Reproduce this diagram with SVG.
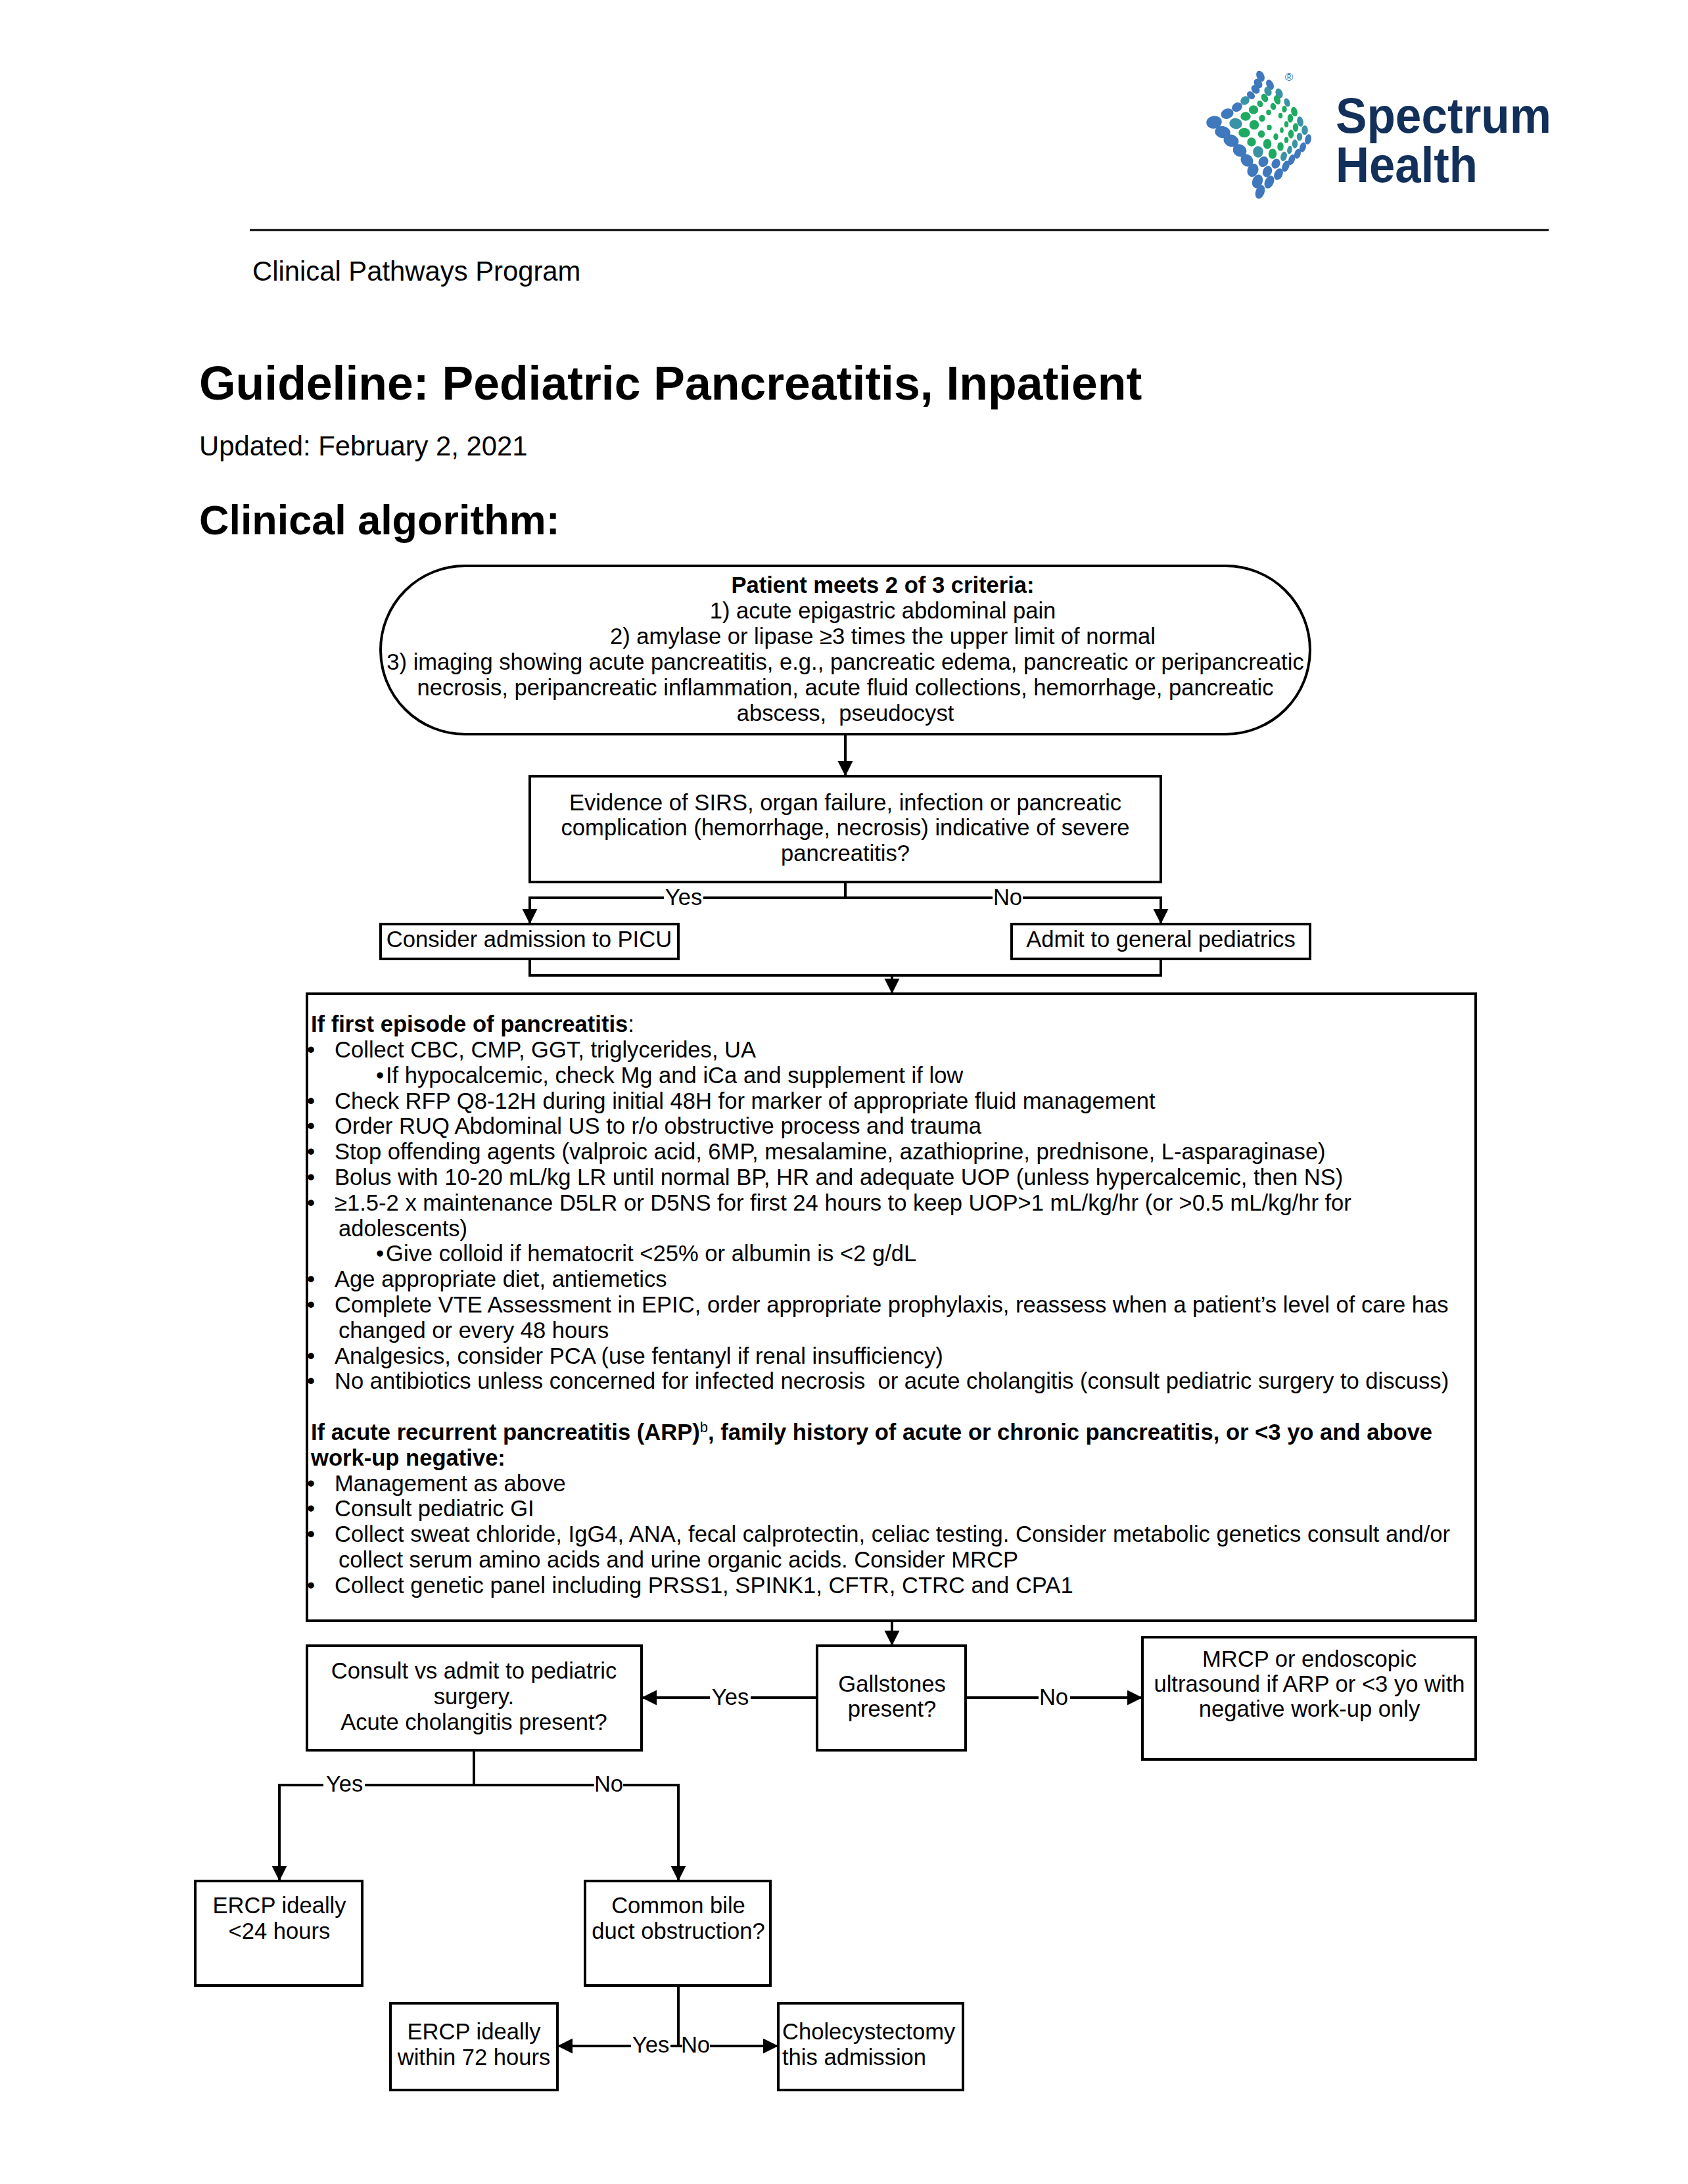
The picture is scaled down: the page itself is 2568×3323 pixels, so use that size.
<svg xmlns="http://www.w3.org/2000/svg" width="2568" height="3323" viewBox="0 0 2568 3323">
<style>
text{font-family:"Liberation Sans",Arial,sans-serif;fill:#000;white-space:pre}
.t{font-size:34.6px}
.m{text-anchor:middle}
.b{font-weight:bold}
.h{font-size:41.8px}
.box{fill:#fff;stroke:#000;stroke-width:4}
.c{fill:none;stroke:#000;stroke-width:4}
.blu{fill:#3f78bd;stroke:#3f78bd;stroke-width:1.5}.tea{fill:#3a93a5;stroke:#3a93a5;stroke-width:1.5}.gre{fill:#1eaa62;stroke:#1eaa62;stroke-width:1.5}
.sup{font-size:22px;font-weight:normal}
</style>
<defs>
<marker id="ah" markerUnits="userSpaceOnUse" markerWidth="24" markerHeight="24" refX="23" refY="11.5" orient="auto"><path d="M0 0L23 11.5L0 23Z" fill="#000"/></marker>
</defs>
<rect width="2568" height="3323" fill="#fff"/>
<g id="logo">
<g class="blu">
<ellipse cx="1917.5" cy="116" rx="5" ry="8" transform="rotate(-25 1917.5 116)"/><ellipse cx="1914" cy="127" rx="5" ry="7" transform="rotate(-35 1914 127)"/><ellipse cx="1910" cy="136" rx="5" ry="6.5" transform="rotate(-40 1910 136)"/><ellipse cx="1903" cy="145" rx="4.5" ry="6" transform="rotate(-45 1903 145)"/><ellipse cx="1882" cy="163" rx="7.5" ry="6" transform="rotate(-30 1882 163)"/><ellipse cx="1867" cy="173" rx="9" ry="7" transform="rotate(-20 1867 173)"/><ellipse cx="1847" cy="186" rx="11" ry="9" transform="rotate(-10 1847 186)"/>
<ellipse cx="1932" cy="129" rx="4.5" ry="7.5" transform="rotate(-25 1932 129)"/><ellipse cx="1860" cy="201" rx="11" ry="8.5" transform="rotate(10 1860 201)"/><ellipse cx="1873" cy="214" rx="11" ry="8.5" transform="rotate(20 1873 214)"/><ellipse cx="1886" cy="229" rx="10" ry="8.5" transform="rotate(30 1886 229)"/><ellipse cx="1897" cy="244" rx="9.5" ry="8" transform="rotate(45 1897 244)"/><ellipse cx="1906" cy="259" rx="7.5" ry="9.5" transform="rotate(20 1906 259)"/><ellipse cx="1913" cy="276" rx="7" ry="10" transform="rotate(20 1913 276)"/><ellipse cx="1917" cy="292" rx="6" ry="10" transform="rotate(20 1917 292)"/>
<ellipse cx="1931" cy="277" rx="6" ry="9.5" transform="rotate(25 1931 277)"/><ellipse cx="1945" cy="265" rx="5.5" ry="8.5" transform="rotate(25 1945 265)"/><ellipse cx="1956" cy="253" rx="4.5" ry="8" transform="rotate(20 1956 253)"/><ellipse cx="1965" cy="243" rx="4" ry="7.5" transform="rotate(20 1965 243)"/><ellipse cx="1974" cy="234" rx="4" ry="7" transform="rotate(15 1974 234)"/><ellipse cx="1982" cy="224" rx="4" ry="7" transform="rotate(15 1982 224)"/><ellipse cx="1990" cy="212" rx="4" ry="7" transform="rotate(10 1990 212)"/><ellipse cx="1941" cy="249" rx="5.5" ry="7" transform="rotate(25 1941 249)"/><ellipse cx="1928" cy="261" rx="6" ry="8" transform="rotate(25 1928 261)"/><ellipse cx="1922" cy="246" rx="6.5" ry="7.5" transform="rotate(30 1922 246)"/>
</g>
<g class="tea">
<ellipse cx="1894" cy="153" rx="6.5" ry="5.5" transform="rotate(-40 1894 153)"/><ellipse cx="1929" cy="139" rx="4.5" ry="6.5" transform="rotate(-25 1929 139)"/><ellipse cx="1946" cy="142" rx="4.5" ry="7" transform="rotate(-20 1946 142)"/><ellipse cx="1958" cy="156" rx="3.5" ry="6" transform="rotate(-20 1958 156)"/><ellipse cx="1880" cy="188" rx="9" ry="7.5" transform="rotate(10 1880 188)"/><ellipse cx="1978" cy="185" rx="4" ry="7" transform="rotate(-10 1978 185)"/><ellipse cx="1985" cy="198" rx="4" ry="6.5"/><ellipse cx="1977" cy="208" rx="3.5" ry="5.5"/><ellipse cx="1970" cy="219" rx="3.5" ry="6"/><ellipse cx="1962" cy="228" rx="3" ry="5.5" transform="rotate(10 1962 228)"/><ellipse cx="1953" cy="238" rx="4" ry="6.5" transform="rotate(15 1953 238)"/><ellipse cx="1914" cy="231" rx="7" ry="8"/>
</g>
<g class="gre">
<ellipse cx="1924" cy="149" rx="4" ry="6" transform="rotate(-30 1924 149)"/><ellipse cx="1917" cy="158" rx="3.5" ry="4.5" transform="rotate(-30 1917 158)"/><ellipse cx="1907" cy="167" rx="6.5" ry="6"/><ellipse cx="1895" cy="177" rx="7" ry="6"/><ellipse cx="1943" cy="152" rx="4" ry="6.5" transform="rotate(-20 1943 152)"/><ellipse cx="1937" cy="162" rx="3.5" ry="4.5" transform="rotate(-20 1937 162)"/><ellipse cx="1930" cy="171" rx="3" ry="3.5"/><ellipse cx="1920" cy="180" rx="4" ry="4.5"/><ellipse cx="1908" cy="190" rx="6.5" ry="6.5"/><ellipse cx="1893" cy="202" rx="8" ry="6.5"/><ellipse cx="1954" cy="166" rx="3" ry="4.5"/><ellipse cx="1948" cy="176" rx="2.5" ry="3.5"/><ellipse cx="1931" cy="194" rx="3" ry="3.5"/><ellipse cx="1919" cy="204" rx="4.5" ry="5"/><ellipse cx="1904" cy="216" rx="6" ry="6"/><ellipse cx="1969" cy="170" rx="4" ry="6.5" transform="rotate(-15 1969 170)"/><ellipse cx="1963" cy="180" rx="3.5" ry="6"/><ellipse cx="1957" cy="189" rx="2.5" ry="4"/><ellipse cx="1950" cy="198" rx="2" ry="3.5"/><ellipse cx="1941" cy="208" rx="3" ry="4.5"/><ellipse cx="1928" cy="219" rx="5.5" ry="7"/><ellipse cx="1971" cy="194" rx="3.5" ry="6"/><ellipse cx="1964" cy="204" rx="3.5" ry="6"/><ellipse cx="1957" cy="213" rx="2.5" ry="4"/><ellipse cx="1948" cy="223" rx="4" ry="6"/><ellipse cx="1936" cy="234" rx="5.5" ry="7"/>
</g>
<text x="1961" y="123" class="m" style="font-size:17px;fill:#2f6db5">®</text>
<text x="2032" y="202" class="b" style="font-size:76px;fill:#12305a" textLength="328" lengthAdjust="spacingAndGlyphs">Spectrum</text>
<text x="2032" y="277" class="b" style="font-size:76px;fill:#12305a" textLength="216" lengthAdjust="spacingAndGlyphs">Health</text>
</g>
<g id="header">
<line x1="380" y1="350" x2="2356" y2="350" stroke="#000" stroke-width="3"/>
<text x="384" y="427" class="h">Clinical Pathways Program</text>
<text x="303" y="608" class="b" style="font-size:71.5px">Guideline: Pediatric Pancreatitis, Inpatient</text>
<text x="303" y="693" class="h">Updated: February 2, 2021</text>
<text x="303" y="813" class="b" style="font-size:62.9px">Clinical algorithm:</text>
</g>
<g id="connectors">
<path class="c" d="M1286 1117V1181" marker-end="url(#ah)"/>
<path class="c" d="M1286 1342V1366"/>
<path class="c" d="M1010 1366H806V1406" marker-end="url(#ah)"/>
<path class="c" d="M1070 1366H1510"/>
<path class="c" d="M1556 1366H1766V1406" marker-end="url(#ah)"/>
<path class="c" d="M806 1459V1484H1766V1459"/>
<path class="c" d="M1357 1484V1512" marker-end="url(#ah)"/>
<path class="c" d="M1357 2466V2504" marker-end="url(#ah)"/>
<path class="c" d="M1080 2583H976" marker-end="url(#ah)"/>
<path class="c" d="M1243 2583H1142"/>
<path class="c" d="M1469 2583H1580"/>
<path class="c" d="M1628 2583H1738" marker-end="url(#ah)"/>
<path class="c" d="M721 2663V2716"/>
<path class="c" d="M492 2716H425V2862" marker-end="url(#ah)"/>
<path class="c" d="M555 2716H904"/>
<path class="c" d="M948 2716H1032V2862" marker-end="url(#ah)"/>
<path class="c" d="M1032 3021V3113"/>
<path class="c" d="M960 3113H848" marker-end="url(#ah)"/>
<path class="c" d="M1080 3113H1184" marker-end="url(#ah)"/>
<path class="c" d="M1020 3113H1038"/>
</g>
<g id="edge-labels">
<text x="1040" y="1377" class="t m">Yes</text>
<text x="1533" y="1377" class="t m">No</text>
<text x="1111" y="2594" class="t m">Yes</text>
<text x="1603" y="2594" class="t m">No</text>
<text x="524" y="2726" class="t m">Yes</text>
<text x="926" y="2726" class="t m">No</text>
<text x="990" y="3123" class="t m">Yes</text>
<text x="1058" y="3123" class="t m">No</text>
</g>
<g id="start">
<rect class="box" x="579" y="861" width="1414" height="256" rx="128" ry="128"/>
<text x="1343" y="902" class="t m b">Patient meets 2 of 3 criteria:</text>
<text x="1343" y="941" class="t m">1) acute epigastric abdominal pain</text>
<text x="1343" y="980" class="t m">2) amylase or lipase ≥3 times the upper limit of normal</text>
<text x="1286" y="1019" class="t m">3) imaging showing acute pancreatitis, e.g., pancreatic edema, pancreatic or peripancreatic</text>
<text x="1286" y="1058" class="t m">necrosis, peripancreatic inflammation, acute fluid collections, hemorrhage, pancreatic</text>
<text x="1286" y="1097" class="t m">abscess,  pseudocyst</text>
</g>
<g id="severity">
<rect class="box" x="806" y="1181" width="960" height="161"/>
<text x="1286" y="1233" class="t m">Evidence of SIRS, organ failure, infection or pancreatic</text>
<text x="1286" y="1271" class="t m">complication (hemorrhage, necrosis) indicative of severe</text>
<text x="1286" y="1310" class="t m">pancreatitis?</text>
</g>
<g id="picu">
<rect class="box" x="579" y="1406" width="453" height="53"/>
<text x="805" y="1441" class="t m">Consider admission to PICU</text>
</g>
<g id="pediatrics">
<rect class="box" x="1539" y="1406" width="454" height="53"/>
<text x="1766" y="1441" class="t m">Admit to general pediatrics</text>
</g>
<g id="management">
<rect class="box" x="467" y="1512" width="1778" height="954"/>
<text x="473" y="1570" class="t"><tspan class="b">If first episode of pancreatitis</tspan>:</text>
<text x="467" y="1609" class="t">•</text><text x="509" y="1609" class="t">Collect CBC, CMP, GGT, triglycerides, UA</text>
<text x="572" y="1648" class="t">•</text><text x="587" y="1648" class="t">If hypocalcemic, check Mg and iCa and supplement if low</text>
<text x="467" y="1687" class="t">•</text><text x="509" y="1687" class="t">Check RFP Q8-12H during initial 48H for marker of appropriate fluid management</text>
<text x="467" y="1725" class="t">•</text><text x="509" y="1725" class="t">Order RUQ Abdominal US to r/o obstructive process and trauma</text>
<text x="467" y="1764" class="t">•</text><text x="509" y="1764" class="t">Stop offending agents (valproic acid, 6MP, mesalamine, azathioprine, prednisone, L-asparaginase)</text>
<text x="467" y="1803" class="t">•</text><text x="509" y="1803" class="t">Bolus with 10-20 mL/kg LR until normal BP, HR and adequate UOP (unless hypercalcemic, then NS)</text>
<text x="467" y="1842" class="t">•</text><text x="509" y="1842" class="t">≥1.5-2 x maintenance D5LR or D5NS for first 24 hours to keep UOP&gt;1 mL/kg/hr (or &gt;0.5 mL/kg/hr for</text>
<text x="515" y="1881" class="t">adolescents)</text>
<text x="572" y="1919" class="t">•</text><text x="587" y="1919" class="t">Give colloid if hematocrit &lt;25% or albumin is &lt;2 g/dL</text>
<text x="467" y="1958" class="t">•</text><text x="509" y="1958" class="t">Age appropriate diet, antiemetics</text>
<text x="467" y="1997" class="t">•</text><text x="509" y="1997" class="t">Complete VTE Assessment in EPIC, order appropriate prophylaxis, reassess when a patient’s level of care has</text>
<text x="515" y="2036" class="t">changed or every 48 hours</text>
<text x="467" y="2075" class="t">•</text><text x="509" y="2075" class="t">Analgesics, consider PCA (use fentanyl if renal insufficiency)</text>
<text x="467" y="2113" class="t">•</text><text x="509" y="2113" class="t">No antibiotics unless concerned for infected necrosis  or acute cholangitis (consult pediatric surgery to discuss)</text>
<text x="473" y="2191" class="t b">If acute recurrent pancreatitis (ARP)<tspan class="sup" dy="-12">b</tspan><tspan dy="12">, family history of acute or chronic pancreatitis, or &lt;3 yo and above</tspan></text>
<text x="473" y="2230" class="t b">work-up negative:</text>
<text x="467" y="2269" class="t">•</text><text x="509" y="2269" class="t">Management as above</text>
<text x="467" y="2307" class="t">•</text><text x="509" y="2307" class="t">Consult pediatric GI</text>
<text x="467" y="2346" class="t">•</text><text x="509" y="2346" class="t">Collect sweat chloride, IgG4, ANA, fecal calprotectin, celiac testing. Consider metabolic genetics consult and/or</text>
<text x="515" y="2385" class="t">collect serum amino acids and urine organic acids. Consider MRCP</text>
<text x="467" y="2424" class="t">•</text><text x="509" y="2424" class="t">Collect genetic panel including PRSS1, SPINK1, CFTR, CTRC and CPA1</text>
</g>
<g id="surgery">
<rect class="box" x="467" y="2504" width="509" height="159"/>
<text x="721" y="2554" class="t m">Consult vs admit to pediatric</text>
<text x="721" y="2593" class="t m">surgery.</text>
<text x="721" y="2632" class="t m">Acute cholangitis present?</text>
</g>
<g id="gallstones">
<rect class="box" x="1243" y="2504" width="226" height="159"/>
<text x="1357" y="2574" class="t m">Gallstones</text>
<text x="1357" y="2612" class="t m">present?</text>
</g>
<g id="mrcp">
<rect class="box" x="1738" y="2491" width="507" height="186"/>
<text x="1992" y="2536" class="t m">MRCP or endoscopic</text>
<text x="1992" y="2574" class="t m">ultrasound if ARP or &lt;3 yo with</text>
<text x="1992" y="2612" class="t m">negative work-up only</text>
</g>
<g id="ercp24">
<rect class="box" x="297" y="2862" width="254" height="159"/>
<text x="425" y="2911" class="t m">ERCP ideally</text>
<text x="425" y="2950" class="t m">&lt;24 hours</text>
</g>
<g id="bile-duct">
<rect class="box" x="890" y="2862" width="282" height="159"/>
<text x="1032" y="2911" class="t m">Common bile</text>
<text x="1032" y="2950" class="t m">duct obstruction?</text>
</g>
<g id="ercp72">
<rect class="box" x="594" y="3048" width="254" height="132"/>
<text x="721" y="3103" class="t m">ERCP ideally</text>
<text x="721" y="3142" class="t m">within 72 hours</text>
</g>
<g id="cholecystectomy">
<rect class="box" x="1184" y="3048" width="281" height="132"/>
<text x="1190" y="3103" class="t">Cholecystectomy</text>
<text x="1190" y="3142" class="t">this admission</text>
</g>
</svg>
